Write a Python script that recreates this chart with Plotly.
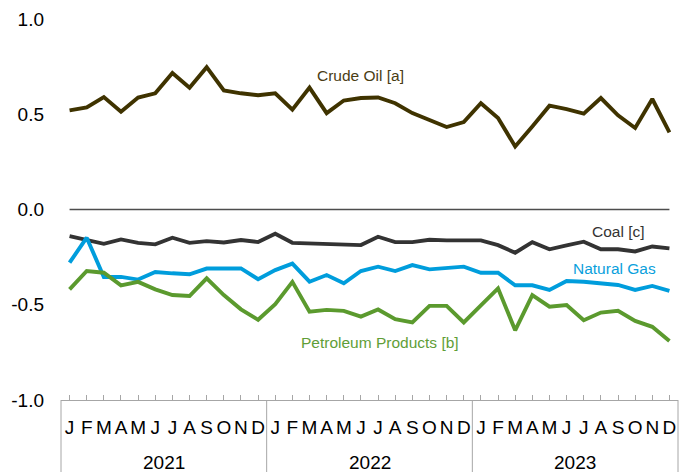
import plotly.graph_objects as go

months = ["J", "F", "M", "A", "M", "J", "J", "A", "S", "O", "N", "D"]
years = ["2021", "2022", "2023"]
x_labels = months * 3

crude_oil = [0.52, 0.536, 0.59, 0.513, 0.588, 0.61, 0.716, 0.639, 0.747, 0.625, 0.61, 0.60,
             0.61, 0.524, 0.64, 0.506, 0.572, 0.585, 0.588, 0.558, 0.506, 0.468, 0.433, 0.459,
             0.558, 0.48, 0.331, 0.436, 0.545, 0.527, 0.503, 0.585, 0.494, 0.428, 0.58, 0.405]
coal = [-0.14, -0.16, -0.18, -0.157, -0.175, -0.183, -0.148, -0.175, -0.166, -0.173, -0.16, -0.171,
        -0.127, -0.175, -0.178, -0.18, -0.185, -0.187, -0.143, -0.171, -0.171, -0.159, -0.162, -0.164,
        -0.162, -0.187, -0.227, -0.171, -0.209, -0.188, -0.169, -0.209, -0.209, -0.22, -0.194, -0.204]
natural_gas = [-0.279, -0.148, -0.354, -0.354, -0.368, -0.328, -0.335, -0.34, -0.31, -0.312, -0.309, -0.366,
               -0.318, -0.284, -0.379, -0.344, -0.387, -0.323, -0.30, -0.323, -0.292, -0.314, -0.305, -0.30,
               -0.332, -0.332, -0.398, -0.398, -0.422, -0.375, -0.379, -0.387, -0.396, -0.422, -0.401, -0.427]
petroleum = [-0.419, -0.323, -0.332, -0.398, -0.38, -0.419, -0.449, -0.454, -0.361, -0.449, -0.524, -0.579,
             -0.497, -0.38, -0.536, -0.527, -0.532, -0.562, -0.525, -0.576, -0.593, -0.506, -0.506, -0.593,
             -0.503, -0.414, -0.634, -0.449, -0.51, -0.501, -0.581, -0.541, -0.532, -0.585, -0.616, -0.69]

y_ticks = [-1.0, -0.5, 0.0, 0.5, 1.0]

x = list(range(36))
FONT = "Liberation Sans, Arial, sans-serif"

series = [
    ("Crude Oil [a]", crude_oil, "#3f3300", "#4a3d14", 16.96, 0.706),
    ("Coal [c]", coal, "#333333", "#333333", 32.0, -0.118),
    ("Natural Gas", natural_gas, "#009ddc", "#0aa0dc", 31.8, -0.312),
    ("Petroleum Products [b]", petroleum, "#5b9a2e", "#5f9e37", 18.1, -0.696),
]

fig = go.Figure()
for name, vals, col, lcol, lx, ly in series:
    fig.add_trace(go.Scatter(x=x, y=vals, mode="lines", name=name,
                             line=dict(color=col, width=3.9), showlegend=False))
    fig.add_annotation(x=lx, y=ly, xref="x", yref="y", text=name, showarrow=False,
                       font=dict(family=FONT, size=15.5, color=lcol),
                       xanchor="center", yanchor="middle")

# zero line
fig.add_shape(type="line", xref="x", yref="y", x0=0, x1=35, y0=0, y1=0,
              line=dict(color="#4d4d4d", width=1.5), layer="below")

# year separators
for px in [0, 1/3, 2/3, 1]:
    fig.add_shape(type="line", xref="paper", yref="paper", x0=px, x1=px, y0=0, y1=-0.189,
                  line=dict(color="#a6a6a6", width=1))

for i, yr in enumerate(years):
    fig.add_annotation(x=5.5 + 12 * i, y=-0.164, xref="x", yref="paper", text=yr,
                       showarrow=False, font=dict(family=FONT, size=19, color="#000000"),
                       xanchor="center", yanchor="middle")

fig.update_layout(
    width=685, height=474,
    margin=dict(l=61, r=7, t=19, b=74),
    paper_bgcolor="white", plot_bgcolor="white",
    font=dict(family=FONT, size=19, color="#000000"),
    xaxis=dict(range=[-0.5, 35.5], tickvals=x, ticktext=x_labels,
               ticks="inside", ticklen=5, tickcolor="#a6a6a6", tickwidth=1,
               showline=True, linecolor="#a6a6a6", linewidth=1,
               showgrid=False, zeroline=False, ticklabelstandoff=10,
               automargin=False,
               tickfont=dict(family=FONT, size=19, color="#000000")),
    yaxis=dict(range=[-1.0, 1.0], tickvals=y_ticks,
               ticktext=[f"{v:.1f}" for v in y_ticks],
               showgrid=False, zeroline=False, showline=False, ticks="",
               ticklabelstandoff=16, automargin=False,
               tickfont=dict(family=FONT, size=19, color="#000000")),
)

fig.write_html("out.html", config={"displayModeBar": False},
               post_script="document.body.style.margin='0';document.body.style.overflow='hidden';")
